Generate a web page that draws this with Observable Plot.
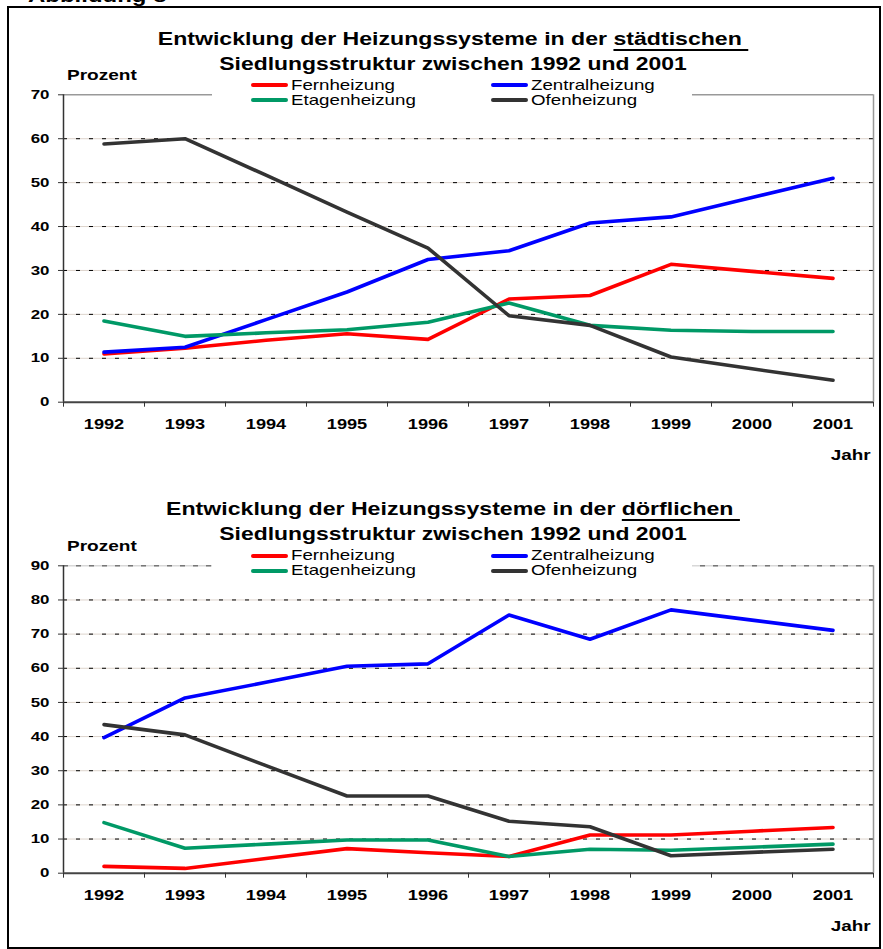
<!DOCTYPE html>
<html><head><meta charset="utf-8">
<script src="https://cdn.jsdelivr.net/npm/d3@7"></script>
<script src="https://cdn.jsdelivr.net/npm/@observablehq/plot@0.6"></script>
<style>
body{margin:0;background:#fff;overflow:hidden;}
#root{position:relative;width:883px;height:949px;overflow:hidden;font-family:"Liberation Sans",Arial,sans-serif;color:#000;}
.t{position:absolute;white-space:nowrap;line-height:1;}
.frame{position:absolute;left:7px;top:6px;width:874px;height:943px;border:2.5px solid #000;box-sizing:border-box;}
.legbox{position:absolute;background:#fff;}
.sw{position:absolute;height:4px;border-radius:2px;}
u{text-decoration-thickness:2px;text-underline-offset:4px;}
svg{position:absolute;left:0;}
</style></head><body><div id="root"></div>
<script>
// ---- data ----
const years = [1992, 1993, 1994, 1995, 1996, 1997, 1998, 1999, 2000, 2001];
const seriesNames = ["Fernheizung", "Zentralheizung", "Etagenheizung", "Ofenheizung"];

const stadtFern    = [11.0, 12.3, 14.1, 15.6, 14.3, 23.5, 24.3, 31.4, 29.8, 28.2];
const stadtZentral = [11.4, 12.5, 18.8, 25.1, 32.5, 34.5, 40.8, 42.2, 46.6, 51.0];
const stadtEtagen  = [18.5, 15.0, 15.8, 16.5, 18.2, 22.6, 17.5, 16.4, 16.1, 16.1];
const stadtOfen    = [58.8, 60.0, 51.7, 43.3, 35.1, 19.7, 17.5, 10.3, 7.6, 5.0];

const dorfFern     = [2.0, 1.4, 4.3, 7.2, 6.0, 4.9, 11.2, 11.2, 12.3, 13.4];
const dorfZentral  = [39.7, 51.3, 55.9, 60.6, 61.3, 75.6, 68.5, 77.1, 74.1, 71.1];
const dorfEtagen   = [14.8, 7.3, 8.5, 9.7, 9.7, 4.9, 7.0, 6.7, 7.6, 8.5];
const dorfOfen     = [43.5, 40.5, 31.5, 22.6, 22.6, 15.2, 13.6, 5.1, 6.1, 7.0];

const yTicksStadt = [0, 10, 20, 30, 40, 50, 60, 70];
const yTicksDorf  = [0, 10, 20, 30, 40, 50, 60, 70, 80, 90];

const titleLine1 = "Entwicklung der Heizungssysteme in der ";
const titleLine2 = "Siedlungsstruktur zwischen 1992 und 2001";
const titleWordStadt = "städtischen";
const titleWordDorf = "dörflichen";
const yLabel = "Prozent";
const xLabel = "Jahr";
const topCaption = "Abbildung 8";

// ---- styles ----
const colors = ["#ff0000", "#0000ff", "#009966", "#333333"];
const FONT = '"Liberation Sans", Arial, sans-serif';
const root = document.getElementById("root");

function addText(html, {x, baseline, size, weight = "normal", anchor = "start", sx = 1.3}) {
  const d = document.createElement("div");
  d.className = "t";
  d.innerHTML = html;
  d.style.fontSize = size + "px";
  d.style.fontWeight = weight;
  d.style.top = (baseline - 0.8465 * size) + "px";
  if (anchor === "start") {
    d.style.left = x + "px";
    d.style.transformOrigin = "left center";
    d.style.transform = `scaleX(${sx})`;
  } else if (anchor === "middle") {
    d.style.left = x + "px";
    d.style.transformOrigin = "50% 50%";
    d.style.transform = `translateX(-50%) scaleX(${sx})`;
  } else {
    d.style.right = (883 - x) + "px";
    d.style.transformOrigin = "right center";
    d.style.transform = `scaleX(${sx})`;
  }
  root.appendChild(d);
  return d;
}

function drawChart({top, values, yTicks, titleWord, dashedTop}) {
  const ymax = yTicks[yTicks.length - 1];
  const table = seriesNames.flatMap((s, i) =>
    years.map((yr, j) => ({series: s, year: yr, value: values[i][j]})));
  const bounds = years.map(y => y - 0.5).concat([years[years.length - 1] + 0.5]);
  const grid = yTicks.filter(t => t > 0 && t < ymax);

  const svg = Plot.plot({
    width: 883, height: 470,
    marginLeft: 63, marginRight: 10, marginTop: 94.3, marginBottom: 68.3,
    x: {domain: [bounds[0], bounds[bounds.length - 1]]},
    y: {domain: [0, ymax]},
    color: {domain: seriesNames, range: colors},
    style: {fontFamily: FONT, background: "transparent", overflow: "visible", color: "#000"},
    marks: [
      Plot.ruleY(grid, {stroke: "#ddd4cc", strokeWidth: 1}),
      Plot.ruleY(grid, {stroke: "#000", strokeWidth: 1, strokeDasharray: "4,9"}),
      dashedTop
        ? Plot.ruleY([ymax], {stroke: "#d8d8d8", strokeWidth: 1.5})
        : Plot.ruleY([ymax], {stroke: "#999", strokeWidth: 1.5}),
      dashedTop
        ? Plot.ruleY([ymax], {stroke: "#777", strokeWidth: 1.5, strokeDasharray: "5,8"})
        : null,
      Plot.ruleX([bounds[bounds.length - 1]], {stroke: "#999", strokeWidth: 1.5}),
      Plot.line(table, {x: "year", y: "value", z: "series", stroke: "series",
        strokeWidth: 3.6, strokeLinejoin: "round", strokeLinecap: "round"}),
      Plot.ruleX([bounds[0]], {stroke: "#333", strokeWidth: 1.5}),
      Plot.ruleY([0], {stroke: "#444", strokeWidth: 2}),
      Plot.axisY({ticks: yTicks, tickSize: 5, tickPadding: 9, label: null,
        tickFormat: d => String(d), stroke: "#333", fontSize: 13, fontWeight: "bold"}),
      Plot.axisX({ticks: bounds, tickSize: 5, label: null, tickFormat: () => "", stroke: "#333"}),
      Plot.axisX({ticks: years, tickSize: 0, tickPadding: 17, label: null,
        tickFormat: d => String(d), fontSize: 14, fontWeight: "bold"})
    ].filter(Boolean)
  });
  svg.style.top = top + "px";
  // horizontal stretch of tick labels, as in the source
  d3.select(svg).selectAll("text").each(function() {
    const x = parseFloat(this.getAttribute("x")) || 0;
    const y = parseFloat(this.getAttribute("y")) || 0;
    const t = this.getAttribute("transform") || "";
    this.setAttribute("transform", `${t} translate(${x},${y}) scale(1.3,1) translate(${-x},${-y})`);
    this.setAttribute("font-weight", "bold");
  });
  root.appendChild(svg);

  // titles
  addText(titleLine1 + "<u>" + titleWord + "&nbsp;</u>", {x: 453, baseline: top + 45.5, size: 17.5, weight: "bold", anchor: "middle", sx: 1.32});
  addText(titleLine2, {x: 453, baseline: top + 70.5, size: 17.5, weight: "bold", anchor: "middle", sx: 1.31});
  addText(yLabel, {x: 67, baseline: top + 80, size: 14, weight: "bold", sx: 1.36});
  addText(xLabel, {x: 871, baseline: top + 460, size: 14, weight: "bold", anchor: "end", sx: 1.35});

  // legend
  const lb = document.createElement("div");
  lb.className = "legbox";
  Object.assign(lb.style, {left: "212px", top: (top + 76) + "px", width: "480px", height: "34px"});
  root.appendChild(lb);
  const legPos = [[250.7, 290.5, 85], [490.7, 530.5, 85], [250.7, 290.5, 100], [490.7, 530.5, 100]];
  seriesNames.forEach((s, i) => {
    const [sx0, tx, cy] = legPos[i];
    const sw = document.createElement("div");
    sw.className = "sw";
    Object.assign(sw.style, {left: sx0 + "px", width: "37px", top: (top + cy - 2) + "px", background: colors[i]});
    root.appendChild(sw);
    addText(s, {x: tx, baseline: top + cy + 5.2, size: 14.5, sx: 1.29});
  });
}

// clipped caption above the frame
addText(topCaption, {x: 28, baseline: 3, size: 17.5, weight: "bold", sx: 1.37});

drawChart({top: 0, values: [stadtFern, stadtZentral, stadtEtagen, stadtOfen], yTicks: yTicksStadt, titleWord: titleWordStadt, dashedTop: false});
drawChart({top: 470.5, values: [dorfFern, dorfZentral, dorfEtagen, dorfOfen], yTicks: yTicksDorf, titleWord: titleWordDorf, dashedTop: true});

const fr = document.createElement("div");
fr.className = "frame";
root.appendChild(fr);
</script></body></html>
